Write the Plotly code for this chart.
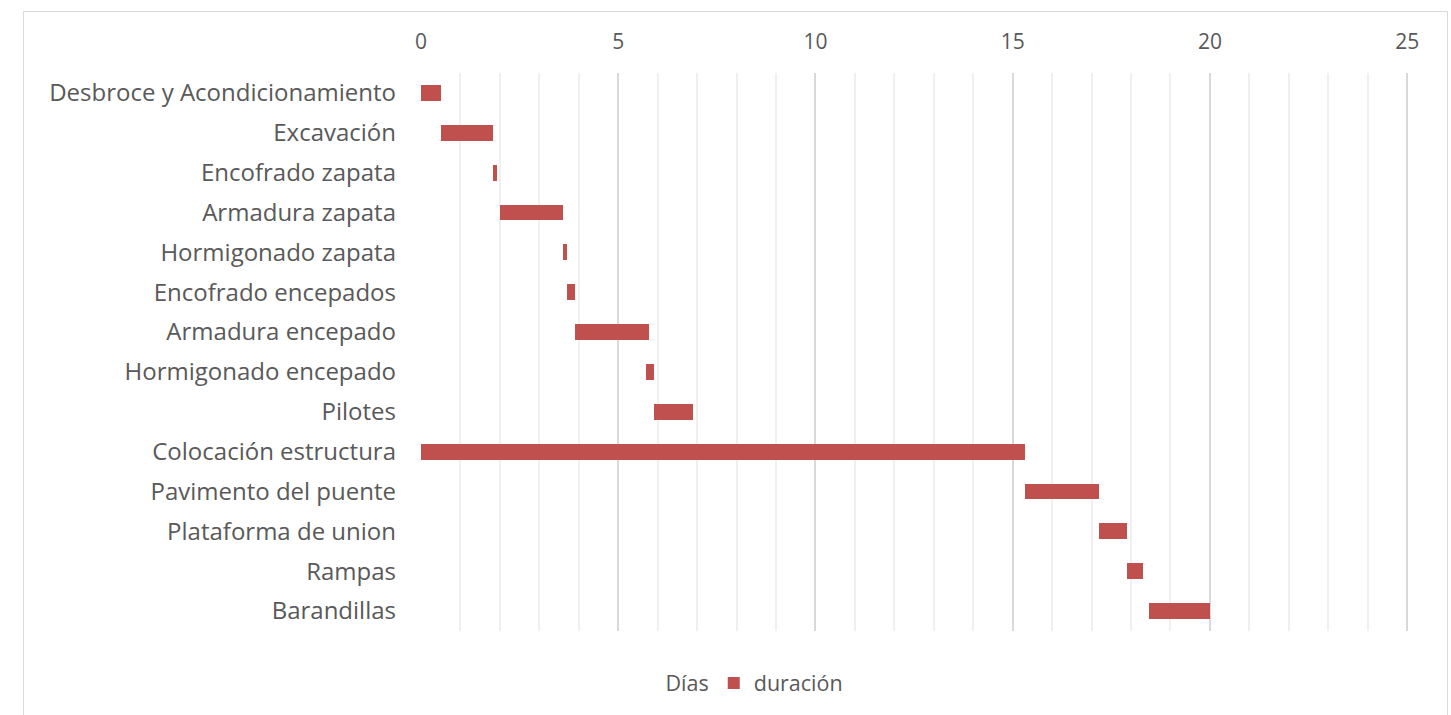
import plotly.graph_objects as go

tasks = [
    "Desbroce y Acondicionamiento",
    "Excavación",
    "Encofrado zapata",
    "Armadura zapata",
    "Hormigonado zapata",
    "Encofrado encepados",
    "Armadura encepado",
    "Hormigonado encepado",
    "Pilotes",
    "Colocación estructura",
    "Pavimento del puente",
    "Plataforma de union",
    "Rampas",
    "Barandillas",
]
dias = [0, 0.5, 1.83, 2.0, 3.6, 3.7, 3.9, 5.7, 5.9, 0, 15.3, 17.2, 17.9, 18.45]
duracion = [0.5, 1.33, 0.1, 1.6, 0.1, 0.2, 1.87, 0.2, 1.0, 15.3, 1.9, 0.7, 0.4, 1.55]
x_ticks = [0, 5, 10, 15, 20, 25]

W, H = 1451, 715
XMAX = 25.3
UNIT = 39.45
L, T, B = 421, 73, 84
pw = round(XMAX * UNIT)
R = W - L - pw
ph = H - T - B

fig = go.Figure()
fig.add_trace(go.Bar(
    y=tasks, x=dias, orientation="h", name="Días",
    marker=dict(color="rgba(0,0,0,0)", line=dict(width=0)), hoverinfo="skip",
))
fig.add_trace(go.Bar(
    y=tasks, x=duracion, orientation="h", name="duración",
    marker=dict(color="#C0504D", line=dict(width=0)),
))

font = "'Open Sans', sans-serif"

def px2x(p):
    return (p - L) / pw

def py2y(p):
    return (H - B - p) / ph

fig.update_layout(
    width=W, height=H,
    margin=dict(l=L, r=R, t=T, b=B),
    barmode="stack", bargap=0.6,
    paper_bgcolor="white", plot_bgcolor="white",
    font=dict(family=font, size=22, color="#595959"),
    xaxis=dict(
        side="top", range=[0, XMAX], tickvals=x_ticks,
        showgrid=True, gridcolor="#D9D9D9", gridwidth=1.5,
        minor=dict(dtick=1, showgrid=True, gridcolor="#F0F0F0", gridwidth=1.5),
        zeroline=False, showline=False, ticks="",
        ticklabelstandoff=19,
        tickfont=dict(size=21, color="#595959"),
    ),
    yaxis=dict(
        type="category", range=[13.5, -0.5],
        showgrid=False, zeroline=False, showline=False, ticks="",
        ticklabelstandoff=24,
        tickfont=dict(size=24, color="#595959"),
    ),
    legend=dict(
        orientation="h", x=px2x(737), xanchor="center",
        y=py2y(683), yanchor="middle",
        font=dict(size=21.5, color="#595959"),
        itemwidth=30, traceorder="normal",
    ),
    shapes=[dict(
        type="rect", xref="paper", yref="paper",
        x0=px2x(23.5), x1=px2x(1447.5), y0=py2y(740), y1=py2y(11.5),
        line=dict(color="#D9D9D9", width=1), fillcolor="rgba(0,0,0,0)",
        layer="below",
    )],
)

fig.write_html("out.html")
